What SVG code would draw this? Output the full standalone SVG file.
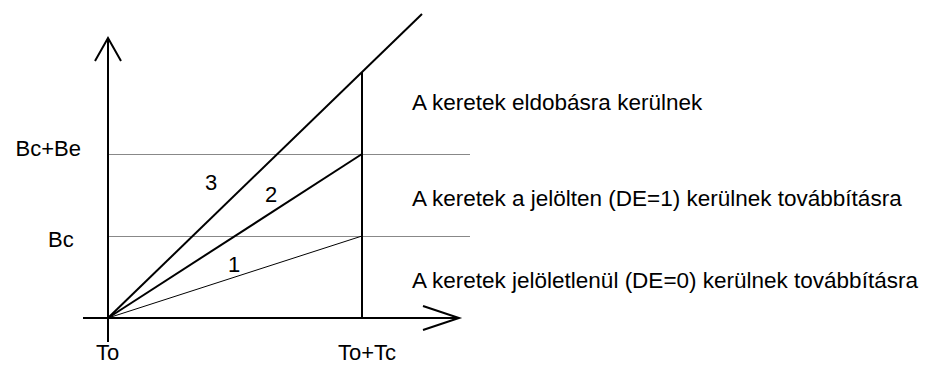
<svg xmlns="http://www.w3.org/2000/svg" width="928" height="365" viewBox="0 0 928 365">
<style>
text{font-family:"Liberation Sans",Arial,sans-serif;font-size:22px;fill:#000}
.ax{stroke:#000;stroke-width:2;fill:none}
.th{stroke:#000;stroke-width:1;fill:none}
.gr{stroke:#888;stroke-width:1;fill:none}
</style>
<rect width="928" height="365" fill="#fff"/>
<g id="connectors">
<line class="gr" x1="108" y1="154.5" x2="470" y2="154.5"/>
<line class="gr" x1="108" y1="236.5" x2="470" y2="236.5"/>
<line class="ax" x1="108" y1="38" x2="108" y2="342"/>
<polyline class="ax" points="95,61 108,38 121,61"/>
<line class="ax" x1="83" y1="318" x2="458" y2="318"/>
<polyline class="ax" points="423,306 459,318 423,330"/>
<line class="ax" x1="362" y1="72" x2="362" y2="318"/>
<line class="ax" x1="108" y1="318" x2="422" y2="14"/>
<line class="ax" x1="108" y1="318" x2="362" y2="154"/>
<line class="th" x1="108" y1="318" x2="362" y2="236"/>
</g>
<g id="labels">
<text x="81" y="156" text-anchor="end">Bc+Be</text>
<text x="48" y="247">Bc</text>
<text x="96" y="360">To</text>
<text x="338" y="360">To+Tc</text>
<text x="205" y="190">3</text>
<text x="265" y="202">2</text>
<text x="228" y="272">1</text>
<text x="412" y="110" style="font-size:22.5px">A keretek eldobásra kerülnek</text>
<text x="412" y="206" style="font-size:22.5px">A keretek a jelölten (DE=1) kerülnek továbbításra</text>
<text x="412" y="288" style="font-size:22.5px">A keretek jelöletlenül (DE=0) kerülnek továbbításra</text>
</g>
</svg>
